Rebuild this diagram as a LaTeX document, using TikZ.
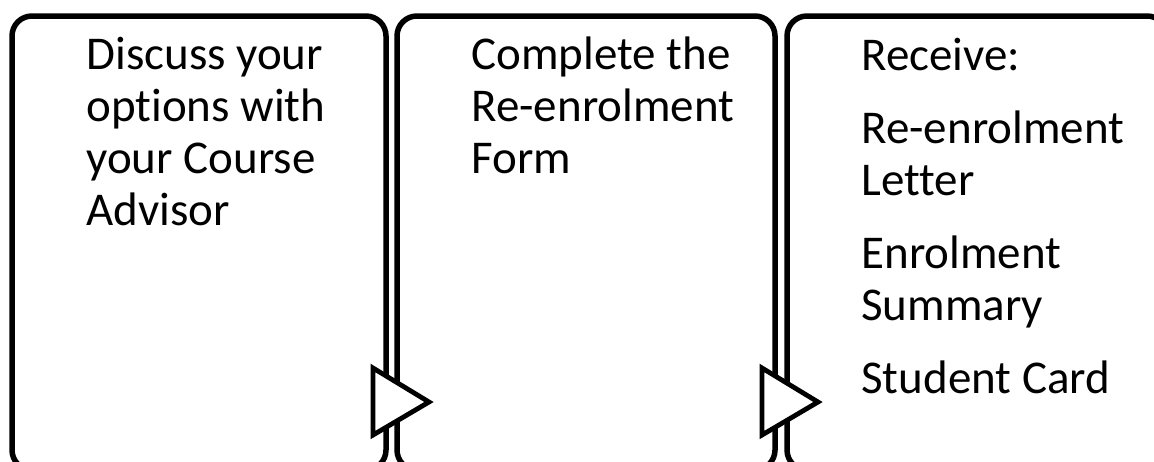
\documentclass[tikz,border=0pt]{standalone}
\usepackage{fontspec}
\setmainfont{Carlito}[Ligatures=NoCommon]
\usetikzlibrary{positioning}

\newcommand{\steplines}[1]{\parbox[t]{170pt}{\raggedright\fontsize{23.5}{26}\selectfont #1}}

\begin{document}
\begin{tikzpicture}[x=0.5pt,y=-0.5pt,
  stepbox/.style={draw,line width=2.75pt,rounded corners=10pt,minimum height=227pt,inner sep=0pt,outer sep=0pt},
  steptext/.style={anchor=base west,inner sep=0pt},
  steparrow/.style={draw,fill=white,line width=2.4pt}]
\useasboundingbox (0,0) rectangle (1154,461);
\clip (0,0) rectangle (1154,461);
% the three steps
\foreach \x/\w [count=\n] in {199/187pt,586/189pt,977/190pt}
  \node[stepbox,minimum width=\w] (B\n) at (\x,243) {};

\node[steptext] (T1) at ([shift={(74,53)}]B1.north west) {\steplines{Discuss your\\options with\\your Course\\Advisor}};
\node[steptext] (T2) at ([shift={(74,53)}]B2.north west) {\steplines{Complete the\\Re-enrolment\\Form}};
\node[steptext] (T3) at ([shift={(74,54)}]B3.north west) {\steplines{Receive:\\[10.5pt]Re-enrolment\\Letter\\[10.5pt]Enrolment\\Summary\\[10.5pt]Student Card}};

% arrows between steps
\foreach \n in {1,2}
  \draw[steparrow] ([shift={(-13,-102)}]B\n.south east) -- ([shift={(43,-68)}]B\n.south east)
    -- ([shift={(-13,-35)}]B\n.south east) -- cycle;
\end{tikzpicture}
\end{document}
